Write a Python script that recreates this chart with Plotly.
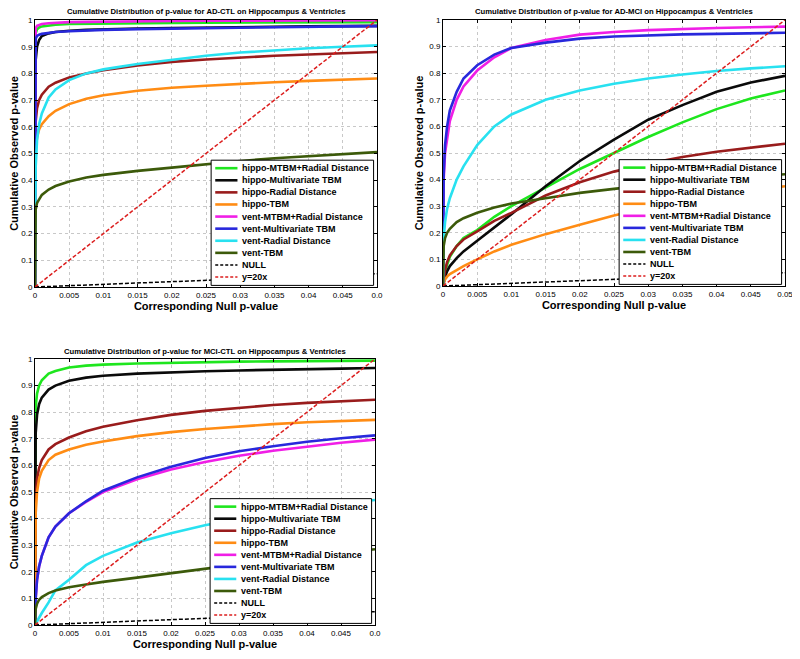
import plotly.graph_objects as go

# common null p-value grid (x) for the curves
null_p = [0, 0.0001, 0.0003, 0.0006, 0.001, 0.002, 0.003, 0.005, 0.0075, 0.01,
          0.015, 0.02, 0.025, 0.03, 0.035, 0.04, 0.045, 0.05]

series_names = ["hippo-MTBM+Radial Distance", "hippo-Multivariate TBM", "hippo-Radial Distance",
                "hippo-TBM", "vent-MTBM+Radial Distance", "vent-Multivariate TBM",
                "vent-Radial Distance", "vent-TBM"]
series_colors = ["#1ee61e", "#0a0a0a", "#991c1c", "#ff8c14", "#f01ee6", "#2828dc",
                 "#28e1f0", "#3c5a0a"]

# AD-CTL
adctl = [
    [0, 0.95, 0.965, 0.972, 0.976, 0.98, 0.982, 0.985, 0.986, 0.987, 0.988, 0.989, 0.99, 0.99, 0.99, 0.991, 0.991, 0.992],
    [0, 0.85, 0.9, 0.925, 0.94, 0.95, 0.955, 0.96, 0.963, 0.965, 0.968, 0.97, 0.972, 0.973, 0.975, 0.976, 0.977, 0.978],
    [0, 0.62, 0.67, 0.7, 0.72, 0.75, 0.765, 0.785, 0.8, 0.812, 0.83, 0.843, 0.852, 0.86, 0.866, 0.871, 0.876, 0.88],
    [0, 0.52, 0.56, 0.59, 0.61, 0.64, 0.66, 0.685, 0.705, 0.718, 0.735, 0.746, 0.754, 0.761, 0.767, 0.772, 0.777, 0.781],
    [0, 0.97, 0.978, 0.982, 0.985, 0.988, 0.99, 0.992, 0.993, 0.994, 0.995, 0.996, 0.997, 0.997, 0.998, 0.998, 0.999, 0.999],
    [0, 0.93, 0.94, 0.945, 0.948, 0.952, 0.955, 0.958, 0.961, 0.963, 0.966, 0.968, 0.97, 0.972, 0.973, 0.975, 0.976, 0.977],
    [0, 0.45, 0.55, 0.61, 0.65, 0.71, 0.74, 0.775, 0.8, 0.815, 0.835, 0.85, 0.866, 0.878, 0.887, 0.894, 0.9, 0.905],
    [0, 0.29, 0.315, 0.33, 0.345, 0.365, 0.378, 0.395, 0.41, 0.42, 0.435, 0.447, 0.46, 0.472, 0.482, 0.49, 0.498, 0.505],
]

# AD-MCI
admci = [
    [0, 0.02, 0.05, 0.08, 0.11, 0.15, 0.18, 0.21, 0.26, 0.3, 0.37, 0.44, 0.5, 0.56, 0.615, 0.665, 0.705, 0.735],
    [0, 0.015, 0.035, 0.055, 0.075, 0.105, 0.13, 0.17, 0.22, 0.27, 0.375, 0.47, 0.55, 0.625, 0.68, 0.73, 0.765, 0.79],
    [0, 0.03, 0.06, 0.09, 0.115, 0.15, 0.175, 0.205, 0.245, 0.275, 0.34, 0.39, 0.43, 0.46, 0.485, 0.505, 0.52, 0.535],
    [0, 0.01, 0.025, 0.035, 0.045, 0.06, 0.075, 0.1, 0.13, 0.155, 0.195, 0.23, 0.265, 0.295, 0.32, 0.345, 0.36, 0.375],
    [0, 0.4, 0.5, 0.56, 0.62, 0.7, 0.75, 0.81, 0.86, 0.895, 0.925, 0.945, 0.955, 0.962, 0.967, 0.97, 0.973, 0.975],
    [0, 0.42, 0.53, 0.6, 0.66, 0.73, 0.78, 0.83, 0.87, 0.895, 0.915, 0.93, 0.938, 0.943, 0.946, 0.948, 0.95, 0.952],
    [0, 0.18, 0.24, 0.29, 0.33, 0.4, 0.45, 0.53, 0.6, 0.645, 0.7, 0.735, 0.76, 0.78, 0.795, 0.808, 0.818, 0.826],
    [0, 0.15, 0.18, 0.2, 0.215, 0.24, 0.255, 0.275, 0.295, 0.31, 0.33, 0.35, 0.365, 0.38, 0.393, 0.403, 0.412, 0.42],
]

# MCI-CTL
mcictl = [
    [0, 0.82, 0.87, 0.9, 0.92, 0.945, 0.955, 0.968, 0.975, 0.979, 0.983, 0.986, 0.988, 0.99, 0.991, 0.992, 0.993, 0.994],
    [0, 0.72, 0.79, 0.83, 0.855, 0.885, 0.9, 0.918, 0.93, 0.937, 0.945, 0.95, 0.954, 0.957, 0.96, 0.962, 0.964, 0.966],
    [0, 0.48, 0.55, 0.59, 0.62, 0.66, 0.68, 0.705, 0.728, 0.745, 0.77, 0.79, 0.805, 0.817, 0.827, 0.835, 0.841, 0.847],
    [0, 0.42, 0.5, 0.55, 0.58, 0.62, 0.64, 0.66, 0.678, 0.69, 0.71, 0.725, 0.737, 0.747, 0.755, 0.762, 0.767, 0.771],
    [0, 0.1, 0.17, 0.22, 0.26, 0.33, 0.37, 0.42, 0.463, 0.5, 0.548, 0.585, 0.613, 0.636, 0.655, 0.671, 0.685, 0.697],
    [0, 0.1, 0.17, 0.22, 0.26, 0.33, 0.37, 0.42, 0.465, 0.505, 0.555, 0.595, 0.628, 0.653, 0.672, 0.689, 0.702, 0.713],
    [0, 0.005, 0.015, 0.03, 0.045, 0.085, 0.13, 0.17, 0.225, 0.26, 0.31, 0.345, 0.375, 0.4, 0.42, 0.44, 0.455, 0.47],
    [0, 0.06, 0.08, 0.095, 0.105, 0.12, 0.13, 0.142, 0.152, 0.162, 0.178, 0.195, 0.212, 0.228, 0.243, 0.258, 0.272, 0.285],
]

line_x = [0, 0.05]
null_y = [0, 0.05]
ref_y = [0, 1]

x_ticks = [0, 0.005, 0.01, 0.015, 0.02, 0.025, 0.03, 0.035, 0.04, 0.045, 0.05]
x_labels = ["0", "0.005", "0.01", "0.015", "0.02", "0.025", "0.03", "0.035", "0.04", "0.045", "0.05"]
x_labels_cut = x_labels[:-1] + ["0.0"]
y_ticks = [0, 0.1, 0.2, 0.3, 0.4, 0.5, 0.6, 0.7, 0.8, 0.9, 1]
y_labels = ["0", "0.1", "0.2", "0.3", "0.4", "0.5", "0.6", "0.7", "0.8", "0.9", "1"]

titles = ["Cumulative Distribution of p-value for AD-CTL on Hippocampus & Ventricles",
          "Cumulative Distribution of p-value for AD-MCI on Hippocampus & Ventricles",
          "Cumulative Distribution of p-value for MCI-CTL on Hippocampus & Ventricles"]

FONT = "Arial, Liberation Sans, sans-serif"
W, H = 800, 659

# panel boxes in pixels (page has an 8px body margin): left, right, top, bottom
panels = [(27, 369, 12, 279), (435, 777, 12, 278), (27, 367, 351, 617)]
panel_data = [adctl, admci, mcictl]
panel_xlabels = [x_labels_cut, x_labels, x_labels_cut]

fig = go.Figure()
shapes = []
annotations = []

legend_items = [(n, c, None) for n, c in zip(series_names, series_colors)]
legend_items += [("NULL", "#000000", "dash"), ("y=20x", "#dc1e1e", "dash")]

for i, (data, box) in enumerate(zip(panel_data, panels)):
    sfx = "" if i == 0 else str(i + 1)
    xa, ya = "x" + sfx, "y" + sfx
    for name, color, ys in zip(series_names, series_colors, data):
        fig.add_trace(go.Scatter(x=null_p, y=ys, mode="lines", name=name, showlegend=False,
                                 line=dict(color=color, width=2.6), xaxis=xa, yaxis=ya))
    fig.add_trace(go.Scatter(x=line_x, y=null_y, mode="lines", name="NULL", showlegend=False,
                             line=dict(color="#000000", width=1.5, dash="4px,2px"), xaxis=xa, yaxis=ya))
    fig.add_trace(go.Scatter(x=line_x, y=ref_y, mode="lines", name="y=20x", showlegend=False,
                             line=dict(color="#dc1e1e", width=1.5, dash="4px,2px"), xaxis=xa, yaxis=ya))

    l, r, t, b = box
    axis_common = dict(showline=True, linecolor="black", linewidth=1, mirror="ticks",
                       ticks="inside", ticklen=3, tickcolor="black", automargin=False,
                       showgrid=True, gridcolor="#c8c8c8", griddash="dot", gridwidth=1,
                       zeroline=False, tickfont=dict(family=FONT, size=8, color="black"))
    fig.layout["xaxis" + sfx] = dict(domain=[l / W, r / W], anchor=ya, range=[0, 0.05],
                                     tickvals=x_ticks, ticktext=panel_xlabels[i],
                                     title=dict(text="Corresponding Null p-value", standoff=0,
                                                font=dict(family=FONT, size=11, weight="bold", color="black")),
                                     **axis_common)
    fig.layout["yaxis" + sfx] = dict(domain=[1 - b / H, 1 - t / H], anchor=xa, range=[0, 1],
                                     tickvals=y_ticks, ticktext=y_labels,
                                     title=dict(text="Cumulative Observed p-value", standoff=3,
                                                font=dict(family=FONT, size=11, weight="bold", color="black")),
                                     **axis_common)

    annotations.append(dict(text=titles[i], xref=xa + " domain", yref="paper", x=0.5,
                            y=1 - (t - 8) / H, showarrow=False, xanchor="center", yanchor="middle",
                            font=dict(family=FONT, size=7.7, weight="bold", color="black")))

    # legend box drawn inside the panel
    xr, yr = xa + " domain", ya + " domain"
    shapes.append(dict(type="rect", xref=xr, yref=yr, x0=0.515, x1=0.99, y0=0.006, y1=0.475,
                       line=dict(color="black", width=1), fillcolor="white", layer="above"))
    for k, (name, color, dash) in enumerate(legend_items):
        yy = 0.445 - k * 0.0453
        shapes.append(dict(type="line", xref=xr, yref=yr, x0=0.527, x1=0.592, y0=yy, y1=yy,
                           line=dict(color=color, width=1.5 if dash else 2.6,
                                     dash="3px,2px" if dash else "solid"), layer="above"))
        annotations.append(dict(text=name, xref=xr, yref=yr, x=0.6, y=yy, showarrow=False,
                                xanchor="left", yanchor="middle",
                                font=dict(family=FONT, size=9, weight="bold", color="black")))

fig.update_layout(width=W, height=H, margin=dict(l=0, r=0, t=0, b=0, autoexpand=False),
                  paper_bgcolor="white", plot_bgcolor="white", showlegend=False,
                  shapes=shapes, annotations=annotations)

fig.write_html("out.html")
